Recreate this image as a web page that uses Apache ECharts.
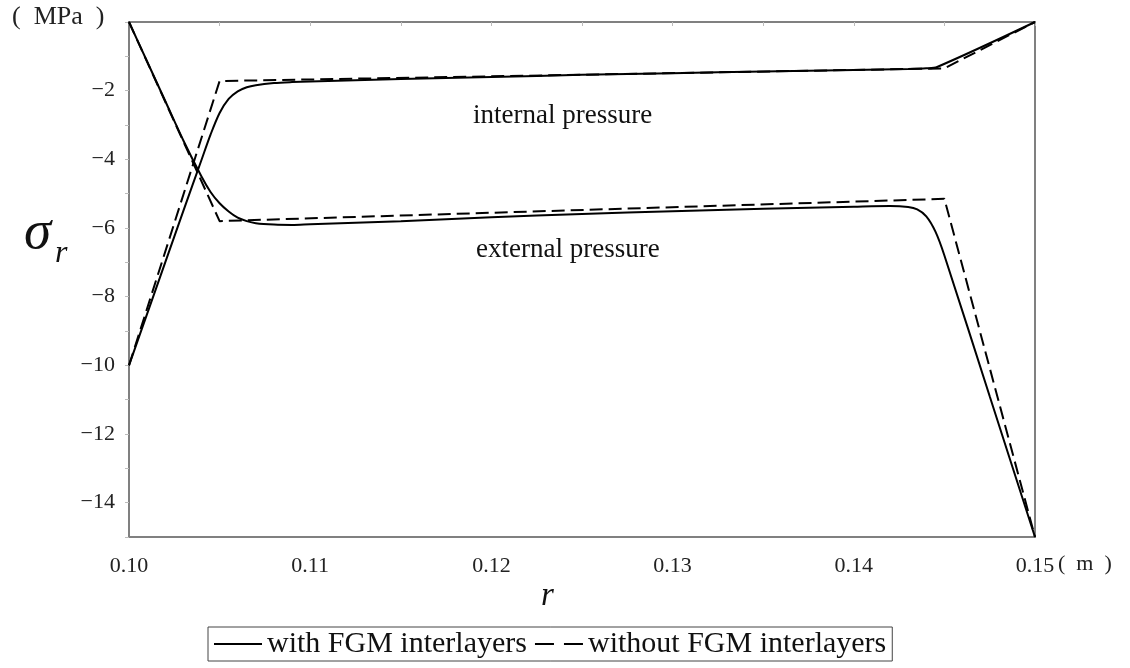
<!DOCTYPE html>
<html>
<head>
<meta charset="utf-8">
<script src="https://cdn.jsdelivr.net/npm/echarts@6/dist/echarts.min.js"></script>
<style>html,body{margin:0;padding:0;background:#fff;}#c{width:1130px;height:668px;}</style>
</head>
<body>
<div id="c"></div>
<script>
// r (m) vs sigma_r (MPa)
const withInternal = [
  [0.100,-10.0],[0.101,-8.5],[0.102,-7.0],[0.103,-5.5],[0.104,-4.02],[0.1045,-3.28],
  [0.105,-2.65],[0.1055,-2.24],[0.106,-2.02],[0.1065,-1.9],[0.107,-1.84],[0.108,-1.78],
  [0.109,-1.75],[0.110,-1.73],[0.115,-1.66],[0.120,-1.6],[0.125,-1.54],[0.130,-1.49],
  [0.135,-1.44],[0.140,-1.4],[0.143,-1.37],[0.144,-1.35],[0.1446,-1.31],[0.150,0.0]
];
const withExternal = [
  [0.100,0.0],[0.101,-1.15],[0.102,-2.3],[0.103,-3.45],[0.104,-4.5],[0.1045,-4.95],
  [0.105,-5.28],[0.1055,-5.52],[0.106,-5.7],[0.1065,-5.8],[0.107,-5.86],[0.108,-5.9],
  [0.109,-5.91],[0.110,-5.89],[0.115,-5.8],[0.120,-5.69],[0.125,-5.59],[0.130,-5.51],
  [0.135,-5.44],[0.140,-5.38],[0.142,-5.36],[0.143,-5.39],[0.1435,-5.46],[0.144,-5.66],
  [0.1445,-6.1],[0.145,-6.8],[0.1475,-10.9],[0.150,-15.0]
];
const withoutInternal = [[0.100,-10.0],[0.105,-1.72],[0.145,-1.35],[0.150,0.0]];
const withoutExternal = [[0.100,0.0],[0.105,-5.8],[0.145,-5.15],[0.150,-15.0]];
const seriesNames = ['with FGM interlayers','without FGM interlayers'];
const annotations = ['internal pressure','external pressure'];

const serif = '"Liberation Serif","Times New Roman",serif';
const chart = echarts.init(document.getElementById('c'));
const solid = {type:'line', symbol:'none', smooth:0.3, lineStyle:{color:'#000', width:2, type:'solid'}, itemStyle:{color:'#000'}};
const dashed = {type:'line', symbol:'none', smooth:false, lineStyle:{color:'#000', width:2, type:[13,6]}, itemStyle:{color:'#000'}};
chart.setOption({
  backgroundColor:'#fff',
  animation:false,
  grid:{left:129, right:95, top:22, bottom:131, show:true, borderColor:'#808080', borderWidth:2},
  xAxis:{type:'value', min:0.10, max:0.15, interval:0.01,
    axisLine:{show:true, lineStyle:{color:'#808080', width:2}},
    axisTick:{show:true, length:4, lineStyle:{color:'#bbb'}},
    minorTick:{show:true, splitNumber:2, length:4, lineStyle:{color:'#bbb'}},
    splitLine:{show:false},
    axisLabel:{color:'#222', fontFamily:serif, fontSize:22, margin:18,
      formatter:v=>v.toFixed(2)}},
  yAxis:{type:'value', min:-15, max:0, interval:1,
    axisLine:{show:true, lineStyle:{color:'#808080', width:2}},
    axisTick:{show:true, length:4, lineStyle:{color:'#bbb'}},
    splitLine:{show:false},
    axisLabel:{color:'#222', fontFamily:serif, fontSize:22, margin:14,
      formatter:v=>{const r=Math.round(v); return (r%2===0 && r!==0) ? '\u2212'+Math.abs(r) : '';}}},
  legend:{left:208, top:627, padding:[2,6,2,6], itemGap:8, itemWidth:48, itemHeight:2,
    borderColor:'#444', borderWidth:1,
    data:[
      {name:seriesNames[0], icon:'path://M0,0h48v2h-48z'},
      {name:seriesNames[1], icon:'path://M0,0h19v2h-19zM29,0h19v2h-19z'}
    ],
    textStyle:{fontFamily:serif, fontSize:30, color:'#111'}},
  graphic:[
    {type:'text', left:12, top:4, style:{text:'(\u2002MPa\u2002)', font:'26px '+serif, fill:'#222'}},
    {type:'text', left:24, top:206, style:{rich:{s:{fontFamily:serif, fontStyle:'italic', fontSize:55, fill:'#111'}, r:{fontFamily:serif, fontStyle:'italic', fontSize:32, fill:'#111', padding:[40,0,0,4]}}, text:'{s|\u03c3}{r|r}'}},
    {type:'text', left:541, top:580, style:{text:'r', font:'italic 33px '+serif, fill:'#111'}},
    {type:'text', left:1058, top:553, style:{text:'(\u2002m\u2002)', font:'22px '+serif, fill:'#222'}},
    {type:'text', left:473, top:102, style:{text:annotations[0], font:'27px '+serif, fill:'#111'}},
    {type:'text', left:476, top:236, style:{text:annotations[1], font:'27px '+serif, fill:'#111'}}
  ],
  series:[
    Object.assign({name:seriesNames[0], data:withInternal}, solid),
    Object.assign({name:seriesNames[0], data:withExternal}, solid),
    Object.assign({name:seriesNames[1], data:withoutInternal}, dashed),
    Object.assign({name:seriesNames[1], data:withoutExternal}, dashed)
  ]
});
</script>
</body>
</html>
